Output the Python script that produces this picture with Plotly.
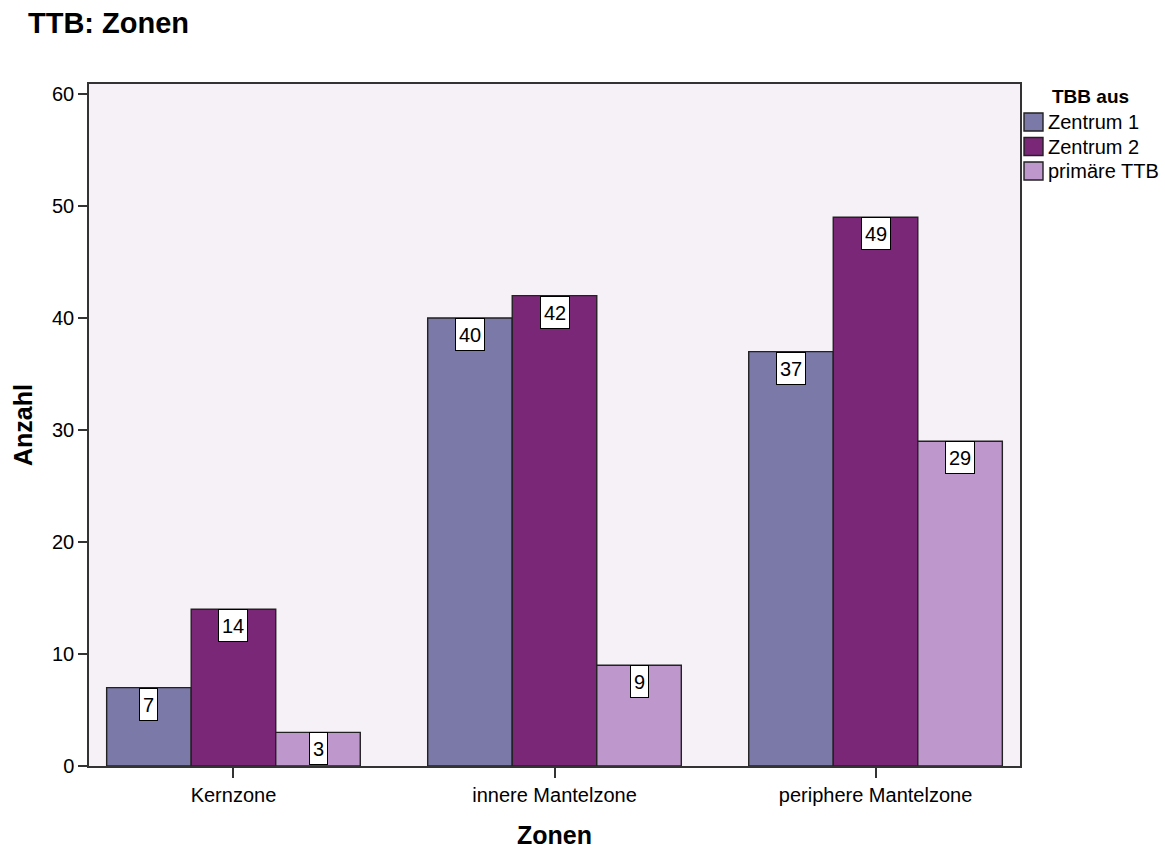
import plotly.graph_objects as go

# Counts of TTB per zone, split by origin
zones = ["Kernzone", "innere Mantelzone", "periphere Mantelzone"]
series_names = ["Zentrum 1", "Zentrum 2", "primäre TTB"]
zentrum1 = [7, 40, 37]
zentrum2 = [14, 42, 49]
primaer = [3, 9, 29]
y_ticks = [0, 10, 20, 30, 40, 50, 60]

colors = ["#7A79A8", "#7B2778", "#BE98CD"]
values = [zentrum1, zentrum2, primaer]

FONT = "Liberation Sans, Arial, sans-serif"
W, H = 1165, 849
M_L, M_R, M_T, M_B = 89, 145, 84, 83
BARGAP = 0.21

fig = go.Figure()
for name, vals, col in zip(series_names, values, colors):
    fig.add_trace(go.Bar(
        x=zones, y=vals, name=name,
        marker=dict(color=col, line=dict(color="#222", width=1.4)),
        showlegend=False,
    ))

# Boxed value labels at the top of each bar
n = len(series_names)
bw = (1 - BARGAP) / n
annotations = []
for s, vals in enumerate(values):
    off = (s - (n - 1) / 2) * bw
    for i, v in enumerate(vals):
        annotations.append(dict(
            x=i + off, y=v, xref="x", yref="y",
            text=str(v), showarrow=False, yanchor="top",
            font=dict(family=FONT, size=20, color="black"),
            height=25, valign="middle",
            bgcolor="white", bordercolor="black", borderwidth=1, borderpad=3,
        ))

# Legend drawn in paper space
pw = W - M_L - M_R
ph = H - M_T - M_B


def px_x(px):
    return (px - M_L) / pw


def px_y(py):
    return (H - M_B - py) / ph


shapes = []
annotations.append(dict(
    x=px_x(1090), y=px_y(97), xref="paper", yref="paper", showarrow=False,
    text="<b>TBB aus</b>", font=dict(family=FONT, size=19, color="black"),
    xanchor="center", yanchor="middle",
))
for k, (name, col) in enumerate(zip(series_names, colors)):
    cy = 122 + k * 24.5
    shapes.append(dict(
        type="rect", xref="paper", yref="paper",
        x0=px_x(1024), x1=px_x(1043), y0=px_y(cy + 9), y1=px_y(cy - 9),
        fillcolor=col, line=dict(color="#222", width=1.4),
    ))
    annotations.append(dict(
        x=px_x(1046), y=px_y(cy), xref="paper", yref="paper", showarrow=False,
        text=name, font=dict(family=FONT, size=20, color="black"),
        xanchor="left", yanchor="middle",
    ))

fig.update_layout(
    width=W, height=H,
    margin=dict(l=M_L, r=M_R, t=M_T, b=M_B),
    paper_bgcolor="white", plot_bgcolor="#F6F1F6",
    barmode="group", bargap=BARGAP, bargroupgap=0,
    font=dict(family=FONT, size=20, color="black"),
    title=dict(
        text="<b>TTB: Zonen</b>", x=28 / W, xref="container", xanchor="left",
        y=1 - 23 / H, yref="container", yanchor="middle",
        font=dict(family=FONT, size=29, color="black"),
    ),
    annotations=annotations, shapes=shapes,
    xaxis=dict(
        range=[-0.45, 2.45], showgrid=False, zeroline=False, automargin=False,
        showline=True, mirror=True, linecolor="#333", linewidth=1.5,
        ticks="outside", ticklen=10, tickcolor="#333", tickwidth=1.5,
        tickfont=dict(family=FONT, size=20),
        title=dict(text="<b>Zonen</b>", font=dict(family=FONT, size=25), standoff=22),
    ),
    yaxis=dict(
        range=[0, 60.9], tickvals=y_ticks, showgrid=False, zeroline=False, automargin=False,
        showline=True, mirror=True, linecolor="#333", linewidth=1.5,
        ticks="outside", ticklen=9, tickcolor="#333", tickwidth=1.5,
        tickfont=dict(family=FONT, size=20),
        title=dict(text="<b>Anzahl</b>", font=dict(family=FONT, size=25), standoff=12),
    ),
)

fig.write_html("out.html")
